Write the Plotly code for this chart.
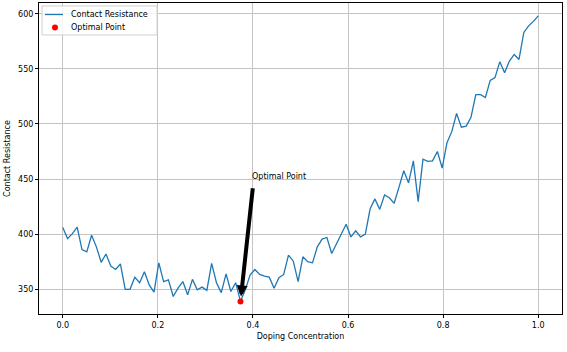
import numpy as np
import plotly.graph_objects as go

doping = np.linspace(0, 1, 100)
resistance = [
    406, 396, 400.5, 406.5, 386, 384, 399, 388.5, 374.5, 382,
    371, 368, 373, 350, 350, 361, 356, 366, 354, 347.5,
    374, 357, 358.5, 343.5, 351, 357, 345, 359, 349.5, 352,
    349, 373.5, 356, 347, 364, 348, 356, 339, 349.5, 363,
    368, 363.5, 362, 361, 351, 360.5, 363.5, 381, 375.5, 357,
    379.5, 375, 374, 388.5, 395.5, 397, 382.5, 391, 400.5, 409,
    397.5, 403, 397.5, 400, 423, 432, 422.5, 435.5, 433, 428,
    442.5, 457.5, 446.5, 466.5, 429.5, 468, 466, 466.5, 475, 460,
    483, 493, 509.5, 497, 498, 506, 526.5, 526.5, 524, 539.5,
    542, 556.5, 546.5, 557, 563, 558.5, 583, 589, 593, 598,
]
x_ticks = [0.0, 0.2, 0.4, 0.6, 0.8, 1.0]
y_ticks = [350, 400, 450, 500, 550, 600]
annot_x, annot_y = 0.4, 450
legend_labels = ["Contact Resistance", "Optimal Point"]

LINE_COLOR = "#1f77b4"
DOT_COLOR = "red"
FONT = "DejaVu Sans"

opt_idx = int(np.argmin(resistance))
opt_x = float(doping[opt_idx])
opt_y = resistance[opt_idx]

fig = go.Figure()
fig.add_trace(go.Scatter(x=doping, y=resistance, mode="lines",
                         name=legend_labels[0], showlegend=False,
                         line=dict(color=LINE_COLOR, width=1.3)))
fig.add_trace(go.Scatter(x=[opt_x], y=[opt_y], mode="markers",
                         name=legend_labels[1], showlegend=False,
                         marker=dict(color=DOT_COLOR, size=6)))

fig.add_annotation(x=opt_x, y=opt_y, ax=annot_x, ay=annot_y - 7,
                   axref="x", ayref="y", xref="x", yref="y",
                   text="", showarrow=True, arrowhead=2, arrowsize=0.55,
                   arrowwidth=4, arrowcolor="black", standoff=5)
fig.add_annotation(x=annot_x, y=annot_y, xref="x", yref="y",
                   text="Optimal Point", showarrow=False,
                   xanchor="left", yanchor="middle", borderpad=0,
                   xshift=-2, yshift=2.5,
                   font=dict(family=FONT, size=8, color="black"))

# compact matplotlib-style legend box (upper left), in axis-domain fractions
L, R, T, B = 39, 562, 3, 314.3
def px(xp):
    return (xp - L) / (R - L)
def py(yp):
    return (B - yp) / (B - T)

fig.add_shape(type="rect", xref="x domain", yref="y domain",
              x0=px(42), x1=px(157), y0=py(35), y1=py(6),
              line=dict(color="#d0d0d0", width=1),
              fillcolor="rgba(255,255,255,0.8)", layer="above")
fig.add_shape(type="line", xref="x domain", yref="y domain",
              x0=px(45), x1=px(63), y0=py(14.5), y1=py(14.5),
              line=dict(color=LINE_COLOR, width=1.3), layer="above")
fig.add_shape(type="circle", xref="x domain", yref="y domain",
              x0=px(52), x1=px(58), y0=py(30.5), y1=py(24.5),
              line=dict(color=DOT_COLOR, width=0), fillcolor=DOT_COLOR,
              layer="above")
for lab, yp in zip(legend_labels, [14.5, 27.5]):
    fig.add_annotation(xref="x domain", yref="y domain", x=px(70), y=py(yp),
                       text=lab, showarrow=False, xanchor="left",
                       yanchor="middle", borderpad=0,
                       font=dict(family=FONT, size=8, color="black"))

axis_common = dict(showline=True, linecolor="black", linewidth=1, mirror=True,
                   ticks="outside", ticklen=3, tickwidth=1, tickcolor="black",
                   showgrid=True, gridcolor="#c4c4c4", gridwidth=1,
                   zeroline=False, tickfont=dict(family=FONT, size=8, color="black"))
fig.update_xaxes(range=[-0.05, 1.05], tickvals=x_ticks, tickformat=".1f",
                 title=dict(text="Doping Concentration", standoff=4,
                            font=dict(family=FONT, size=8, color="black")),
                 **axis_common)
fig.update_yaxes(range=[327.6, 609.7], tickvals=y_ticks,
                 title=dict(text="Contact Resistance", standoff=6,
                            font=dict(family=FONT, size=8, color="black")),
                 **axis_common)
fig.update_layout(width=567, height=352,
                  margin=dict(l=39, r=5, t=3, b=38, autoexpand=False),
                  plot_bgcolor="white", paper_bgcolor="white",
                  font=dict(family=FONT, size=8, color="black"),
                  showlegend=False)
fig.write_html("out.html")
